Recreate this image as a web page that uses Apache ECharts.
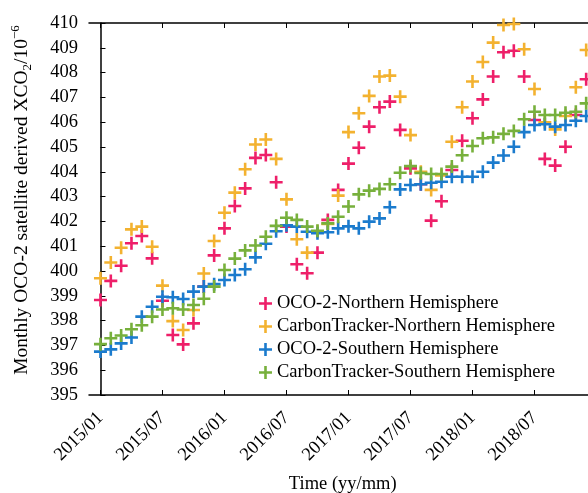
<!DOCTYPE html>
<html>
<head>
<meta charset="utf-8">
<script src="https://cdn.jsdelivr.net/npm/echarts@6/dist/echarts.min.js"></script>
<style>
  html, body { margin: 0; padding: 0; background: #fff; }
  #main { width: 588px; height: 493px; }
</style>
</head>
<body>
<div id="main"></div>
<script>
// month index 0 = 2015/01 ... 47 = 2018/12
const tickMonths = [0, 6, 12, 18, 24, 30, 36, 42, 48];
const labelMonths = [0, 6, 12, 18, 24, 30, 36, 42];
const tickLabels = ["2015/01", "2015/07", "2016/01", "2016/07", "2017/01", "2017/07", "2018/01", "2018/07"];

const ocoNorth = [
  398.83, 399.6, 400.21, 401.12, 401.41, 400.51, 398.8, 397.42, 397.04, 397.89, 399.37, 400.63,
  401.72, 402.62, 403.33, 404.56, 404.68, 403.58, 401.79, 400.27, 399.91, 400.74, 402.06, 403.27,
  404.33, 404.97, 405.82, 406.6, 406.83, 405.69, 404.14, 403.5, 402.03, 402.81, 404.07, 405.25,
  406.16, 406.92, 407.84, 408.82, 408.88, 407.84, 406.09, 404.52, 404.25, 405.01, 406.29, 407.73
];
const ctNorth = [
  399.71, 400.34, 400.94, 401.68, 401.79, 400.98, 399.41, 397.98, 397.62, 398.43, 399.9, 401.21,
  402.35, 403.16, 404.1, 405.1, 405.3, 404.52, 402.89, 401.28, 400.74, 401.6, 401.9, 403.04,
  405.6, 406.36, 407.06, 407.84, 407.88, 407.03, 405.48, 404.0, 403.27, 403.85, 405.21, 406.6,
  407.64, 408.43, 409.21, 409.92, 409.96, 408.94, 407.34, 406.0, 405.71, 406.25, 407.41, 408.91
];
const ocoSouth = [
  396.75, 396.84, 397.08, 397.32, 398.16, 398.56, 398.96, 398.94, 398.87, 399.17, 399.37, 399.47,
  399.64, 399.84, 400.07, 400.55, 401.1, 401.6, 401.84, 401.79, 401.58, 401.52, 401.56, 401.72,
  401.8, 401.72, 401.99, 402.12, 402.57, 403.29, 403.47, 403.5, 403.56, 403.6, 403.8, 403.8,
  403.8, 404.0, 404.37, 404.66, 405.01, 405.6, 405.89, 405.92, 405.82, 405.89, 406.06, 406.25
];
const ctSouth = [
  397.05, 397.29, 397.4, 397.65, 397.81, 398.16, 398.45, 398.5, 398.45, 398.63, 398.88, 399.37,
  400.04, 400.5, 400.83, 401.03, 401.38, 401.82, 402.15, 402.06, 401.79, 401.62, 401.92, 402.19,
  402.6, 403.09, 403.24, 403.31, 403.5, 403.96, 404.23, 403.95, 403.91, 403.91, 404.21, 404.67,
  405.04, 405.35, 405.39, 405.53, 405.65, 406.12, 406.42, 406.29, 406.29, 406.38, 406.42, 406.76
];

const seriesNames = [
  "OCO-2-Northern Hemisphere",
  "CarbonTracker-Northern Hemisphere",
  "OCO-2-Southern Hemisphere",
  "CarbonTracker-Southern Hemisphere"
];
const colors = ["#ee1f69", "#f3b230", "#1b7bcd", "#77b03c"];

const plus = "path://M4,0h2v4h4v2h-4v4h-2v-4h-4v-2h4z";
const font = "Liberation Serif";
const fs = 18.5;

function toPoints(values) {
  return values.map((v, i) => [i, v]);
}

function makeSeries(name, values, color) {
  return {
    name: name,
    type: "scatter",
    data: toPoints(values),
    symbol: plus,
    symbolSize: 13,
    itemStyle: { color: color, opacity: 1 },
    emphasis: { disabled: true }
  };
}

function monthLabel(v) {
  const i = labelMonths.indexOf(v);
  return i >= 0 ? tickLabels[i] : "";
}

const xCommon = {
  type: "value",
  min: -1.11,
  max: 48,
  splitLine: { show: false },
  axisLine: { show: true, onZero: false, lineStyle: { color: "#000", width: 1.5 } },
  axisTick: { show: true, inside: true, length: 5, customValues: tickMonths, lineStyle: { color: "#000" } }
};

const options = {
  animation: false,
  backgroundColor: "#fff",
  textStyle: { fontFamily: font },
  grid: { left: 89, top: 23, width: 507.5, height: 372, containLabel: false, outerBoundsMode: "none" },
  legend: {
    orient: "vertical",
    left: 254,
    top: 289,
    itemWidth: 13,
    itemHeight: 13,
    itemGap: 4,
    icon: plus,
    textStyle: { fontFamily: font, fontSize: fs, color: "#000" },
    data: seriesNames
  },
  xAxis: [
    Object.assign({}, xCommon, {
      position: "bottom",
      name: "Time (yy/mm)",
      nameLocation: "middle",
      nameGap: 80,
      nameTextStyle: { fontFamily: font, fontSize: fs, color: "#000" },
      axisLabel: {
        customValues: labelMonths,
        formatter: monthLabel,
        rotate: 45,
        margin: 20,
        fontFamily: font,
        fontSize: fs,
        color: "#000"
      }
    }),
    Object.assign({}, xCommon, {
      position: "top",
      axisLabel: { show: false }
    })
  ],
  yAxis: {
    type: "value",
    min: 395,
    max: 410,
    interval: 1,
    splitLine: { show: false },
    axisLine: { show: true, lineStyle: { color: "#000", width: 1.5 } },
    axisTick: { show: true, inside: true, length: 5, lineStyle: { color: "#000" } },
    axisLabel: { margin: 11, fontFamily: font, fontSize: fs, color: "#000" },
    name: "{a|Monthly OCO-2 satellite derived XCO}{s|2}{a|/10}{p|−6}",
    nameLocation: "middle",
    nameRotate: 90,
    nameGap: 55,
    nameTextStyle: {
      fontFamily: font,
      fontSize: 19.5,
      color: "#000",
      padding: [0, 0, 0, 18],
      rich: {
        a: { fontFamily: font, fontSize: 19.5, color: "#000", lineHeight: 25 },
        s: { fontFamily: font, fontSize: 13, color: "#000", lineHeight: 13, verticalAlign: "bottom" },
        p: { fontFamily: font, fontSize: 13, color: "#000", lineHeight: 13, verticalAlign: "top" }
      }
    }
  },
  series: [
    makeSeries(seriesNames[0], ocoNorth, colors[0]),
    makeSeries(seriesNames[1], ctNorth, colors[1]),
    makeSeries(seriesNames[2], ocoSouth, colors[2]),
    makeSeries(seriesNames[3], ctSouth, colors[3])
  ]
};

var myChart = echarts.init(document.getElementById("main"));
myChart.setOption(options);
window.onresize = function() {
  myChart.resize();
};
</script>
</body>
</html>
